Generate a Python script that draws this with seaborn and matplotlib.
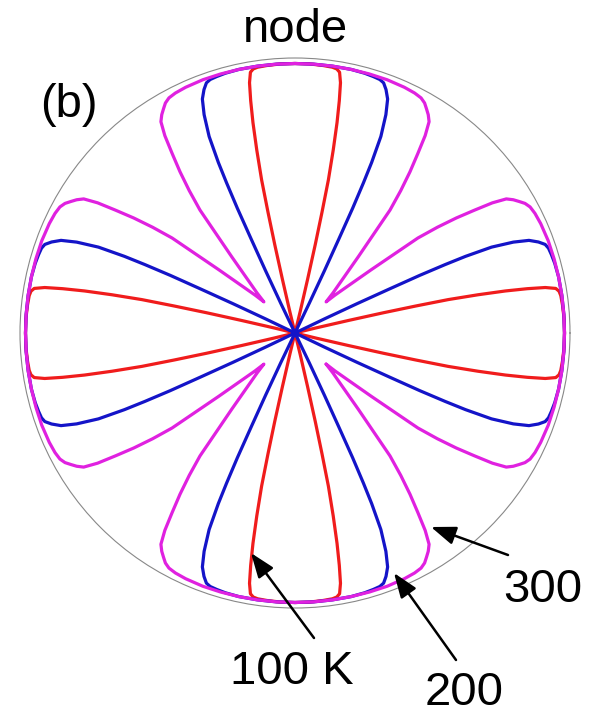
import numpy as np
import pandas as pd
import matplotlib
matplotlib.use("Agg")
import matplotlib.pyplot as plt
import seaborn as sns
from matplotlib.patches import FancyArrowPatch

# One octant of each angular profile: angle from the lobe axis (deg) and
# normalised radius.  The full pattern has four identical mirrored lobes.
temps = ["100 K", "200", "300"]
colors = ["#f01c1c", "#1414c8", "#e021e0"]

red_phi = [0, 3, 6, 8, 9, 9.7, 10.3, 10.8, 11.3, 11.8, 12.3, 12.6, 12.9, 13.2, 13.6, 14.0, 45]
red_r = [0.98, 0.98, 0.978, 0.976, 0.972, 0.962, 0.925, 0.86, 0.78, 0.68, 0.57, 0.45, 0.33, 0.2, 0.08, 0.0, 0.0]

blue_phi = [0, 4, 8, 12, 15, 17, 18.5, 19.5, 20.5, 21.6, 22.6, 23.6, 24.2, 24.5, 24.8, 25.0, 25.3, 25.6, 26.0, 45]
blue_r = [0.98, 0.98, 0.98, 0.98, 0.978, 0.975, 0.972, 0.965, 0.945, 0.915, 0.86, 0.78, 0.68, 0.60, 0.50, 0.38, 0.25, 0.12, 0.0, 0.0]

mag_phi = [0, 4, 8, 12, 16, 20, 24, 26.5, 28.2, 29.4, 30.4, 31.4, 32.4, 33.4, 34.4, 35.5, 36.6, 37.7, 38.4, 39.7, 41.8, 43.5, 45]
mag_r = [0.98, 0.98, 0.98, 0.98, 0.98, 0.98, 0.978, 0.975, 0.97, 0.96, 0.945, 0.93, 0.91, 0.86, 0.79, 0.72, 0.645, 0.565, 0.47, 0.36, 0.25, 0.2, 0.16]

profiles = {temps[0]: (red_phi, red_r),
            temps[1]: (blue_phi, blue_r),
            temps[2]: (mag_phi, mag_r)}

# Annotation positions in figure pixels (x, y from top): text anchor, arrow tail, arrow tip
labels = {"300": ((543, 602), (508, 555), (431, 527)),
          "200": ((464, 705), (456, 660), (394, 573)),
          "100 K": ((292, 684), (314, 638), (251, 553))}


def full_pattern(phi_deg, r):
    phi = np.asarray(phi_deg, float)
    r = np.asarray(r, float)
    lobe_phi = np.concatenate([-phi[::-1], phi[1:]])
    lobe_r = np.concatenate([r[::-1], r[1:]])
    th, rr = [], []
    for k in range(4):
        t = lobe_phi + 90 * k
        v = lobe_r
        if k > 0:
            t, v = t[1:], v[1:]
        th.append(t)
        rr.append(v)
    return np.deg2rad(np.concatenate(th)), np.concatenate(rr)


frames = []
for name in temps:
    th, rr = full_pattern(*profiles[name])
    frames.append(pd.DataFrame({"theta": th, "r": rr, "T": name}))
df = pd.concat(frames, ignore_index=True)

sns.set_style("white")
plt.rcParams["font.family"] = ["Liberation Sans", "DejaVu Sans"]
plt.rcParams["text.color"] = "black"

W, H = 594, 718
fig = plt.figure(figsize=(W / 100, H / 100), dpi=100)
cx, cy, R = 295, 333, 275
ax = fig.add_axes([(cx - R) / W, 1 - (cy + R) / H, 2 * R / W, 2 * R / H],
                  projection="polar")

sns.lineplot(data=df, x="theta", y="r", hue="T", hue_order=temps,
             palette=dict(zip(temps, colors)), sort=False, estimator=None,
             units="T", linewidth=2.3, legend=False, ax=ax)

ax.set_ylim(0, 1.0)
ax.set_yticks([])
ax.set_xticks(np.deg2rad(np.arange(0, 360, 45)))
ax.set_xticklabels([])
ax.tick_params(axis="x", direction="in", length=6, width=0.8, colors="#888888")
ax.grid(False)
ax.spines["polar"].set_color("#888888")
ax.spines["polar"].set_linewidth(0.8)
ax.set_xlabel("")
ax.set_ylabel("")

fs = 34
fig.text(295 / W, 1 - 42 / H, "node", ha="center", va="baseline", fontsize=fs,
         color="black")
fig.text(40 / W, 1 - 117 / H, "(b)", ha="left", va="baseline", fontsize=fs,
         color="black")

for text, (tpos, tail, tip) in labels.items():
    fig.text(tpos[0] / W, 1 - tpos[1] / H, text, ha="center", va="baseline",
             fontsize=fs, color="black")
    arr = FancyArrowPatch((tail[0] / W, 1 - tail[1] / H), (tip[0] / W, 1 - tip[1] / H),
                          transform=fig.transFigure,
                          arrowstyle="-|>,head_length=0.75,head_width=0.28",
                          mutation_scale=20, color="black", lw=1.8,
                          shrinkA=0, shrinkB=0)
    fig.add_artist(arr)

fig.savefig("out.png", dpi=100)
